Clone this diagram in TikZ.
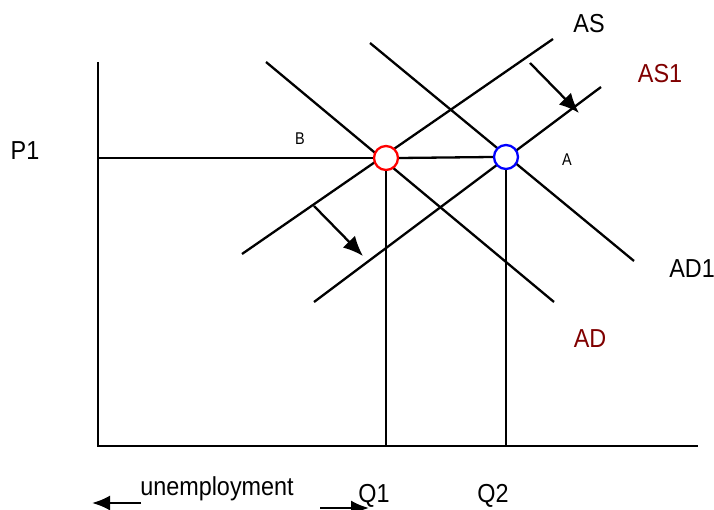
\documentclass[tikz,border=0pt]{standalone}
\usepackage{fontspec}
\setmainfont{Liberation Sans}
\usetikzlibrary{arrows.meta}
\definecolor{darkred}{RGB}{128,0,0}
\tikzset{
  ln/.style={line width=2.3pt, line cap=butt},
  shiftarrow/.style={line width=2.3pt, -{Latex[length=20pt,width=17pt]}},
  uarrow/.style={line width=2.3pt, -{Latex[length=18pt,width=15pt]}},
  lbl/.style={font=\fontsize{26}{30}\selectfont, inner sep=0pt, xscale=0.9, anchor=base},
  redlbl/.style={lbl, text=darkred},
  small/.style={font=\fontsize{17}{20}\selectfont, inner sep=0pt, xscale=0.85, anchor=base},
  eq/.style={circle, draw, fill=white, line width=2.3pt, minimum size=24pt, inner sep=0pt},
}
\begin{document}
\begin{tikzpicture}[x=1pt,y=-1pt]
\useasboundingbox (0,0) rectangle (714,510);
% axes
\coordinate (ytop) at (98,62);
\coordinate (orig) at (98,446);
\coordinate (xend) at (698,446);
\draw[ln] (ytop) -- (orig) -- (xend);
% curves
\coordinate (as0) at (242,254); \coordinate (as1) at (553,39);
\coordinate (asb0) at (314,302); \coordinate (asb1) at (601,87);
\coordinate (ad0) at (266,62); \coordinate (ad1) at (554,302);
\coordinate (adb0) at (370,43); \coordinate (adb1) at (634,261);
\draw[ln] (as0) -- (as1);
\draw[ln] (asb0) -- (asb1);
\draw[ln] (ad0) -- (ad1);
\draw[ln] (adb0) -- (adb1);
% equilibria
\coordinate (p1l) at (98,158);
\node[eq, draw=red] (E1) at (386,158) {};
\node[eq, draw=blue] (E2) at (506,157) {};
\draw[ln] (p1l) -- (E1.west);
\draw[ln] (E1.east) -- (E2.west);
\coordinate (q1b) at (386,446);
\coordinate (q2b) at (506,446);
\draw[ln] (E1.south) -- (q1b);
\draw[ln] (E2.south) -- (q2b);
% shift arrows
\coordinate (a1s) at (530,63); \coordinate (a1e) at (579,113);
\coordinate (a2s) at (314,206); \coordinate (a2e) at (363,256);
\draw[shiftarrow] (a1s) -- (a1e);
\draw[shiftarrow] (a2s) -- (a2e);
% labels
\node[lbl] (lAS) at (589,33) {AS};
\node[redlbl] (lAS1) at (660,83) {AS1};
\node[lbl] (lAD1) at (692,278) {AD1};
\node[redlbl] (lAD) at (590,347) {AD};
\node[lbl] (lP1) at (25,160) {P1};
\node[small] (lB) at (300,145) {B};
\node[small] (lA) at (567,166) {A};
\node[lbl] (lQ1) at (374,502) {Q1};
\node[lbl] (lQ2) at (493,502) {Q2};
\node[lbl] (lun) at (217,495) {unemployment};
% unemployment arrows
\coordinate (u1s) at (141,503); \coordinate (u1e) at (92,503);
\coordinate (u2s) at (320,508); \coordinate (u2e) at (369,508);
\draw[uarrow] (u1s) -- (u1e);
\draw[uarrow] (u2s) -- (u2e);
\end{tikzpicture}
\end{document}
